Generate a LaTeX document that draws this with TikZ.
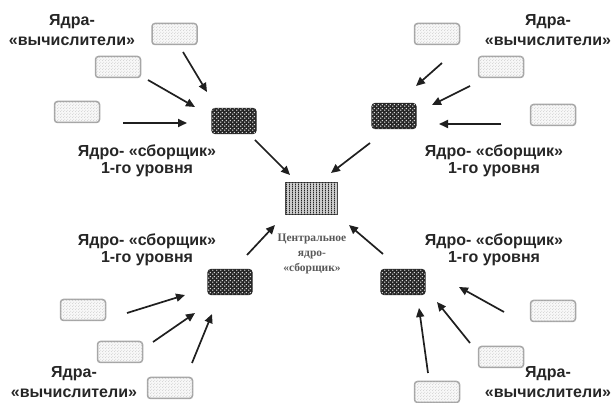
\documentclass[tikz,border=0pt]{standalone}
\usepackage{fontspec}
\setmainfont{Liberation Sans}
\newfontfamily\serf{Liberation Serif}
\usetikzlibrary{patterns,arrows.meta}
\pgfdeclarepatternformonly{ckdots}{\pgfpointorigin}{\pgfqpoint{4pt}{4pt}}{\pgfqpoint{4pt}{4pt}}{%
  \pgfpathcircle{\pgfqpoint{1pt}{1pt}}{0.9pt}%
  \pgfpathcircle{\pgfqpoint{3pt}{3pt}}{0.9pt}%
  \pgfusepath{fill}}
\pgfdeclarepatternformonly{finedots}{\pgfpointorigin}{\pgfqpoint{3pt}{3pt}}{\pgfqpoint{3pt}{3pt}}{%
  \pgfpathcircle{\pgfqpoint{0.75pt}{0.75pt}}{0.5pt}%
  \pgfpathcircle{\pgfqpoint{2.25pt}{2.25pt}}{0.5pt}%
  \pgfusepath{fill}}
\pgfdeclarepatternformonly{vstripes}{\pgfpointorigin}{\pgfqpoint{2.6pt}{2pt}}{\pgfqpoint{2.6pt}{2pt}}{%
  \pgfpathrectangle{\pgfqpoint{0pt}{0pt}}{\pgfqpoint{1.1pt}{2pt}}%
  \pgfusepath{fill}}
\tikzset{
  compbox/.style={draw=gray!70, line width=1.5pt, rounded corners=3pt, fill=gray!6,
    postaction={pattern=finedots, pattern color=gray!50},
    minimum width=45pt, minimum height=21pt, inner sep=0pt},
  asmbox/.style={draw=black!85, line width=1.2pt, rounded corners=3pt, fill=black!85,
    postaction={pattern=ckdots, pattern color=white!85!black},
    minimum width=44pt, minimum height=25pt, inner sep=0pt},
  ctrbox/.style={draw=black!70, line width=1pt, fill=gray!40,
    postaction={pattern=vstripes, pattern color=black!85},
    minimum width=52pt, minimum height=32pt, inner sep=0pt},
  arr/.style={line width=1.7pt, draw=black!88, -{Triangle[length=9pt,width=8pt]}},
  lab/.style={font=\fontsize{16}{17}\selectfont\bfseries, text=black!85, align=center, inner sep=0pt},
  clab/.style={font=\fontsize{16}{20}\selectfont\bfseries, text=black!85, align=center, inner sep=0pt},
  ctxt/.style={font=\serf\fontsize{11.5}{15}\selectfont\bfseries, text=black!65, align=center, inner sep=0pt}
}
\begin{document}
\begin{tikzpicture}[x=1pt,y=-1pt]
\useasboundingbox (0,0) rectangle (614,403);
% central node
\node[ctrbox] (C) at (311,199) {};
\node[ctxt] (Ct) at (312,254) {Центральное\\ядро-\\«сборщик»};
% top-left
\node[compbox] (A1) at (174.5,34) {};
\node[compbox] (A2) at (118,67) {};
\node[compbox] (A3) at (77,112) {};
\node[asmbox] (B1) at (234,121) {};
\node[clab] (LA) at (72,30) {Ядра-\\«вычислители»};
\node[lab] (LB1) at (147,161) {Ядро- «сборщик»\\1-го уровня};
% top-right
\node[compbox] (T1) at (437,34) {};
\node[compbox] (T2) at (501,67) {};
\node[compbox] (T3) at (553,115) {};
\node[asmbox] (B2) at (394,116) {};
\node[clab] (LT) at (548,30) {Ядра-\\«вычислители»};
\node[lab] (LB2) at (494,161) {Ядро- «сборщик»\\1-го уровня};
% bottom-left
\node[compbox] (D1) at (83,310) {};
\node[compbox] (D2) at (120,352) {};
\node[compbox] (D3) at (170,388) {};
\node[asmbox] (B3) at (230,282) {};
\node[clab] (LD) at (74,382) {Ядра-\\«вычислители»};
\node[lab] (LB3) at (147,250) {Ядро- «сборщик»\\1-го уровня};
% bottom-right
\node[compbox] (E1) at (553,311) {};
\node[compbox] (E2) at (501,357) {};
\node[compbox] (E3) at (437,392) {};
\node[asmbox] (B4) at (403,282) {};
\node[clab] (LE) at (548,382) {Ядра-\\«вычислители»};
\node[lab] (LB4) at (494,250) {Ядро- «сборщик»\\1-го уровня};
% arrows top-left
\draw[arr] ([shift={(8.5,18)}]A1.center) -- ([shift={(-27,-29)}]B1.center);
\draw[arr] ([shift={(30,13)}]A2.center) -- ([shift={(-39,-14)}]B1.center);
\draw[arr] ([shift={(46,11)}]A3.center) -- ([shift={(-47,2)}]B1.center);
\draw[arr] ([shift={(21,19)}]B1.center) -- ([shift={(-21,-24)}]C.center);
% arrows top-right
\draw[arr] ([shift={(5,29)}]T1.center) -- ([shift={(22,-30)}]B2.center);
\draw[arr] ([shift={(-31,19)}]T2.center) -- ([shift={(38,-11)}]B2.center);
\draw[arr] ([shift={(-52,9)}]T3.center) -- ([shift={(45,8)}]B2.center);
\draw[arr] ([shift={(-24,27)}]B2.center) -- ([shift={(20,-26)}]C.center);
% arrows bottom-left
\draw[arr] ([shift={(44,3)}]D1.center) -- ([shift={(-45,13)}]B3.center);
\draw[arr] ([shift={(33,-10)}]D2.center) -- ([shift={(-35,31)}]B3.center);
\draw[arr] ([shift={(22,-25)}]D3.center) -- ([shift={(-18,32)}]B3.center);
\draw[arr] ([shift={(17,-27)}]B3.center) -- ([shift={(-36,26)}]C.center);
% arrows bottom-right
\draw[arr] ([shift={(-49,1)}]E1.center) -- ([shift={(56,5)}]B4.center);
\draw[arr] ([shift={(-31,-14)}]E2.center) -- ([shift={(34,20)}]B4.center);
\draw[arr] ([shift={(-9,-19)}]E3.center) -- ([shift={(16,26)}]B4.center);
\draw[arr] ([shift={(-20,-28)}]B4.center) -- ([shift={(38,26)}]C.center);
\end{tikzpicture}
\end{document}
